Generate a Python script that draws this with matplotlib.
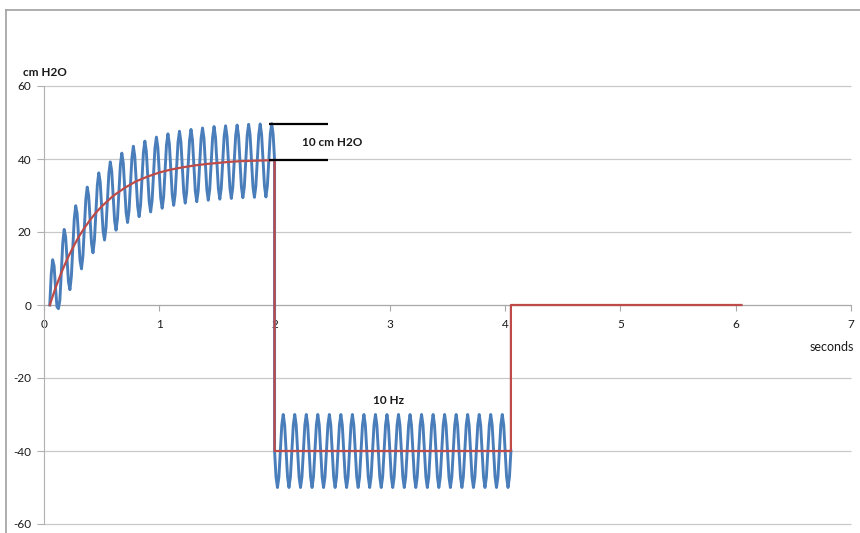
import numpy as np
import matplotlib.pyplot as plt
from matplotlib.lines import Line2D

plt.rcParams["font.family"] = ["Lato", "DejaVu Sans"]
plt.rcParams["axes.unicode_minus"] = False

BLUE = "#4a7ebb"
RED = "#be4b48"
GRID = "#c9c9c9"
TXT = "#1a1a1a"

# pressure trace, sampled every 0.0125 s (8 samples per 10 Hz cycle)
sample_step = 0.0125
rise_start = 0.05
blue_rise = [
    0.0, 8.3, 12.4, 10.7, 4.7, -0.5, -1.0, 1.3,
    8.8, 16.9, 20.7, 18.7, 12.5, 6.3, 4.2, 7.9,
    15.7, 23.6, 27.2, 25.0, 18.6, 12.2, 9.9, 13.4,
    21.1, 28.8, 32.3, 29.9, 23.3, 16.8, 14.3, 17.8,
    25.3, 32.8, 36.2, 33.7, 27.0, 20.3, 17.8, 21.1,
    28.5, 36.0, 39.2, 36.6, 29.9, 23.1, 20.5, 23.7,
    31.1, 38.4, 41.6, 38.9, 32.1, 25.3, 22.6, 25.8,
    33.0, 40.3, 43.5, 40.7, 33.9, 27.0, 24.2, 27.3,
    34.6, 41.8, 44.9, 42.1, 35.2, 28.3, 25.5, 28.6,
    35.8, 43.0, 46.0, 43.2, 36.3, 29.3, 26.5, 29.5,
    36.7, 43.9, 46.9, 44.1, 37.1, 30.1, 27.3, 30.3,
    37.4, 44.6, 47.6, 44.7, 37.7, 30.7, 27.9, 30.9,
    38.0, 45.1, 48.1, 45.3, 38.2, 31.2, 28.3, 31.3,
    38.5, 45.6, 48.5, 45.7, 38.6, 31.6, 28.7, 31.7,
    38.8, 45.9, 48.9, 46.0, 38.9, 31.9, 29.0, 32.0,
    39.1, 46.2, 49.1, 46.2, 39.2, 32.1, 29.2, 32.2,
    39.3, 46.4, 49.3, 46.4, 39.4, 32.3, 29.4, 32.3,
    39.4, 46.5, 49.5, 46.6, 39.5, 32.4, 29.5, 32.5,
    39.6, 46.6, 49.6, 46.7, 39.6, 32.6, 29.6, 32.6,
    39.7, 46.7, 49.7, 46.8, 39.7,
]
hold_start = 2.0
blue_hold = [
    -40, -47.1, -50, -47.1,
    -40, -32.9, -30, -32.9, -40, -47.1, -50, -47.1,
    -40, -32.9, -30, -32.9, -40, -47.1, -50, -47.1,
    -40, -32.9, -30, -32.9, -40, -47.1, -50, -47.1,
    -40, -32.9, -30, -32.9, -40, -47.1, -50, -47.1,
    -40, -32.9, -30, -32.9, -40, -47.1, -50, -47.1,
    -40, -32.9, -30, -32.9, -40, -47.1, -50, -47.1,
    -40, -32.9, -30, -32.9, -40, -47.1, -50, -47.1,
    -40, -32.9, -30, -32.9, -40, -47.1, -50, -47.1,
    -40, -32.9, -30, -32.9, -40, -47.1, -50, -47.1,
    -40, -32.9, -30, -32.9, -40, -47.1, -50, -47.1,
    -40, -32.9, -30, -32.9, -40, -47.1, -50, -47.1,
    -40, -32.9, -30, -32.9, -40, -47.1, -50, -47.1,
    -40, -32.9, -30, -32.9, -40, -47.1, -50, -47.1,
    -40, -32.9, -30, -32.9, -40, -47.1, -50, -47.1,
    -40, -32.9, -30, -32.9, -40, -47.1, -50, -47.1,
    -40, -32.9, -30, -32.9, -40, -47.1, -50, -47.1,
    -40, -32.9, -30, -32.9, -40, -47.1, -50, -47.1,
    -40, -32.9, -30, -32.9, -40, -47.1, -50, -47.1,
    -40, -32.9, -30, -32.9, -40, -47.1, -50, -47.1,
    -40, -32.9, -30, -32.9, -40, -47.1, -50, -47.1,
    -40,
]

# mean pressure (red)
red_t = [0.05, 0.1, 0.15, 0.2, 0.25, 0.3, 0.35, 0.4, 0.45, 0.5, 0.6, 0.7,
         0.8, 0.9, 1.0, 1.1, 1.2, 1.3, 1.4, 1.5, 1.6, 1.7, 1.8, 1.9, 2.0,
         2.0, 4.05, 4.05, 6.05]
red_p = [0, 4.7, 8.8, 12.5, 15.7, 18.6, 21.1, 23.3, 25.3, 27.0, 29.9, 32.1,
         33.9, 35.2, 36.3, 37.1, 37.7, 38.2, 38.6, 38.9, 39.2, 39.4, 39.5,
         39.6, 39.7, -40, -40, 0, 0]

# amplitude marker (peak and mean level)
bracket_y = [49.5, 39.7]
bracket_x = [1.95, 2.46]

y_ticks = [-60, -40, -20, 0, 20, 40, 60]
x_ticks = [0, 1, 2, 3, 4, 5, 6, 7]

fig = plt.figure(figsize=(8.6, 5.33), dpi=100)
ax = fig.add_axes([44 / 860, 1 - 524 / 533, 807 / 860, 438 / 533])

ax.set_xlim(0, 7)
ax.set_ylim(-60, 60)
ax.set_yticks(y_ticks)
ax.set_xticks(x_ticks)

# excel-style horizontal gridlines, including the top and bottom ones
ax.hlines(y_ticks, x_ticks[0], x_ticks[-1], color=GRID, lw=0.9,
          clip_on=False, zorder=0.5)

rise_t = rise_start + sample_step * np.arange(len(blue_rise))
hold_t = hold_start + sample_step * np.arange(len(blue_hold))
ax.plot(np.concatenate([rise_t, hold_t]), blue_rise + blue_hold,
        color=BLUE, lw=2.1, zorder=3, solid_joinstyle="round")
ax.plot(red_t, red_p, color=RED, lw=1.6, zorder=4)
ax.hlines(bracket_y, bracket_x[0], bracket_x[1], color="black", lw=1.6, zorder=5)

ax.text(2.24, 44.4, "10 cm H2O", fontsize=8.5, fontweight="bold", color=TXT,
        va="center", ha="left")
ax.text(2.85, -26.3, "10 Hz", fontsize=8.5, fontweight="bold", color=TXT,
        va="center", ha="left")

for s in ["top", "right"]:
    ax.spines[s].set_visible(False)
ax.spines["left"].set_color("#b0b0b0")
ax.spines["bottom"].set_position(("data", 0))
ax.spines["bottom"].set_color("#a8a8a8")
ax.tick_params(axis="y", length=5, color="#b0b0b0", labelsize=8.5, labelcolor=TXT, pad=4)
ax.tick_params(axis="x", length=4, color="#a8a8a8", labelsize=8.5, labelcolor=TXT, pad=6)

fig.text(23 / 860, 1 - 72 / 533, "cm H2O", fontsize=8.5, fontweight="bold",
         color=TXT, va="center", ha="left")
fig.text(832 / 860, 1 - 347 / 533, "seconds", fontsize=9, color=TXT,
         va="center", ha="center")

# outer chart frame
fig.add_artist(Line2D([6 / 860, 6 / 860], [0, 1 - 10 / 533],
                      transform=fig.transFigure, color="#a0a0a0", lw=1.2))
fig.add_artist(Line2D([6 / 860, 1], [1 - 10 / 533, 1 - 10 / 533],
                      transform=fig.transFigure, color="#a0a0a0", lw=1.2))

fig.savefig("out.png", dpi=100)
